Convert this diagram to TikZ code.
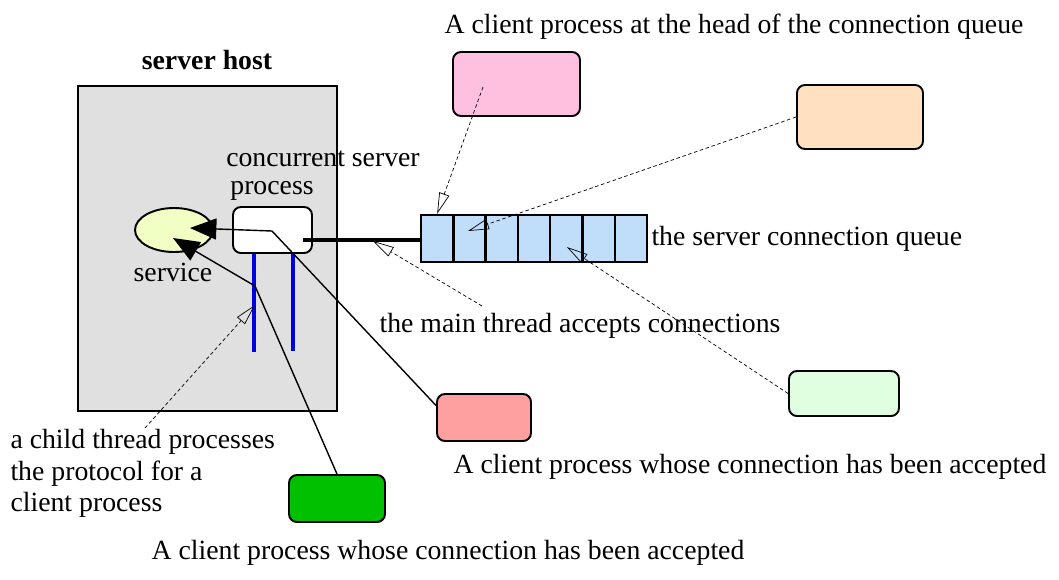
\documentclass[tikz,border=0pt]{standalone}
\usepackage{fontspec}
\setmainfont{Liberation Serif}
\usepackage{xcolor}
\usetikzlibrary{arrows.meta,calc,positioning,shapes.geometric}
\definecolor{hostgray}{HTML}{E0E0E0}
\definecolor{svcyellow}{HTML}{F2FFC4}
\definecolor{qblue}{HTML}{C0DEFA}
\definecolor{headpink}{HTML}{FFC0E0}
\definecolor{peach}{HTML}{FFE0C0}
\definecolor{mint}{HTML}{E0FFE0}
\definecolor{salmon}{HTML}{FFA0A0}
\definecolor{cgreen}{HTML}{00C000}
\definecolor{tblue}{HTML}{0000E0}

\begin{document}
\begin{tikzpicture}[x=0.02cm,y=-0.02cm,semithick,font=\fontsize{15.8}{18}\selectfont]
		\tikzstyle{client}=[draw, line width=1.1pt, rounded corners=4.5pt, inner sep=0pt]
		\tikzstyle{cell}=[draw, line width=1.4pt, minimum width=0.646cm, minimum height=0.94cm, inner sep=0pt]
		\tikzstyle{thread}=[draw=tblue, line width=2.2pt]
		\tikzstyle{conn}=[line width=0.8pt, -{Triangle[length=15pt,width=12pt]}]
		\tikzstyle{note}=[line width=0.4pt, dash pattern=on 2pt off 1.5pt, -{Triangle[open,length=12pt,width=6pt]}]
		\tikzstyle{lbl}=[inner sep=0pt]
		\useasboundingbox (0,0) rectangle (1059,579);

			\node[draw, line width=1.1pt, fill=hostgray, minimum width=5.18cm, minimum height=6.5cm, anchor=north west] (host) at (77,85) {};
			\node[lbl, font=\fontsize{15.8}{18}\selectfont\bfseries] (hostlbl) at (207,60) {server host};
			\node[ellipse, draw, line width=1.1pt, fill=svcyellow, minimum width=1.56cm, minimum height=0.88cm, inner sep=0pt] (svc) at (174,230) {};
			\node[lbl] (svclbl) at (173,272) {service};
			\node[client, fill=white, minimum width=1.58cm, minimum height=0.92cm] (proc) at (272.5,230) {};
			\node[lbl] (proclbl1) at (323,159) {concurrent server};
			\node[lbl] (proclbl2) at (272,191) {process};

			\node[fill=qblue, minimum width=4.522cm, minimum height=0.94cm, inner sep=0pt] (queue) at (534.2,238.5) {};
			\foreach \i in {0,...,6}{
				\node[cell] (cell\i) at ({437.15+32.3*\i},238.5) {};
				}
			\node[lbl, anchor=west] (qlbl) at (651,239) {the server connection queue};

			\node[client, fill=headpink, minimum width=2.54cm, minimum height=1.28cm] (head) at (516.5,84) {};
			\node[client, fill=peach, minimum width=2.52cm, minimum height=1.28cm] (wait1) at (860,117) {};
			\node[client, fill=mint, minimum width=2.2cm, minimum height=0.9cm] (wait2) at (844,393.5) {};
			\node[client, fill=salmon, minimum width=1.88cm, minimum height=0.94cm] (acc1) at (484,417.5) {};
			\node[client, fill=cgreen, minimum width=1.92cm, minimum height=0.94cm] (acc2) at (337,498.5) {};

			\node[lbl] (headlbl) at (734,27) {A client process at the head of the connection queue};
			\node[lbl] (mainlbl) at (580,326) {the main thread accepts connections};
			\node[lbl] (acclbl1) at (750,467) {A client process whose connection has been accepted};
			\node[lbl] (acclbl2) at (448,553) {A client process whose connection has been accepted};
			\node[lbl, align=left, anchor=west] (childlbl) at (10,473.5) {a child thread processes\\the protocol for a\\client process};

			\coordinate (t1) at (254,352);
			\coordinate (t2) at (293,351);
			\foreach \t in {t1,t2}{
				\draw[thread] (\t |- proc.south) -- (\t);
				}
			\coordinate (acc) at (303,240);
			\draw[line width=2.3pt] (acc) -- (acc -| cell0.west);

			\coordinate (k1) at (272,231);
			\coordinate (s1) at (190,228);
			\coordinate (k2) at (255,286);
			\coordinate (s2) at (173,238);
			\draw[conn] ($(acc1.west)+(0,-12)$) -- (k1) -- (s1);
			\draw[conn] (acc2.north) -- (k2) -- (s2);

			\coordinate (hp) at (483,87);
			\coordinate (ml) at (482,306);
			\coordinate (mt) at (373,241);
			\coordinate (cl) at (145,428);
			\coordinate (ct) at (255,305);
			\draw[note] (hp) -- (cell0.north);
			\draw[note] (wait1.west) -- ($(cell1.center)+(-1.5,-7.5)$);
			\draw[note] (wait2.west) -- ($(cell4.center)+(0.5,8.5)$);
			\draw[note] (ml) -- (mt);
			\draw[note] (cl) -- (ct);
\end{tikzpicture}
\end{document}
